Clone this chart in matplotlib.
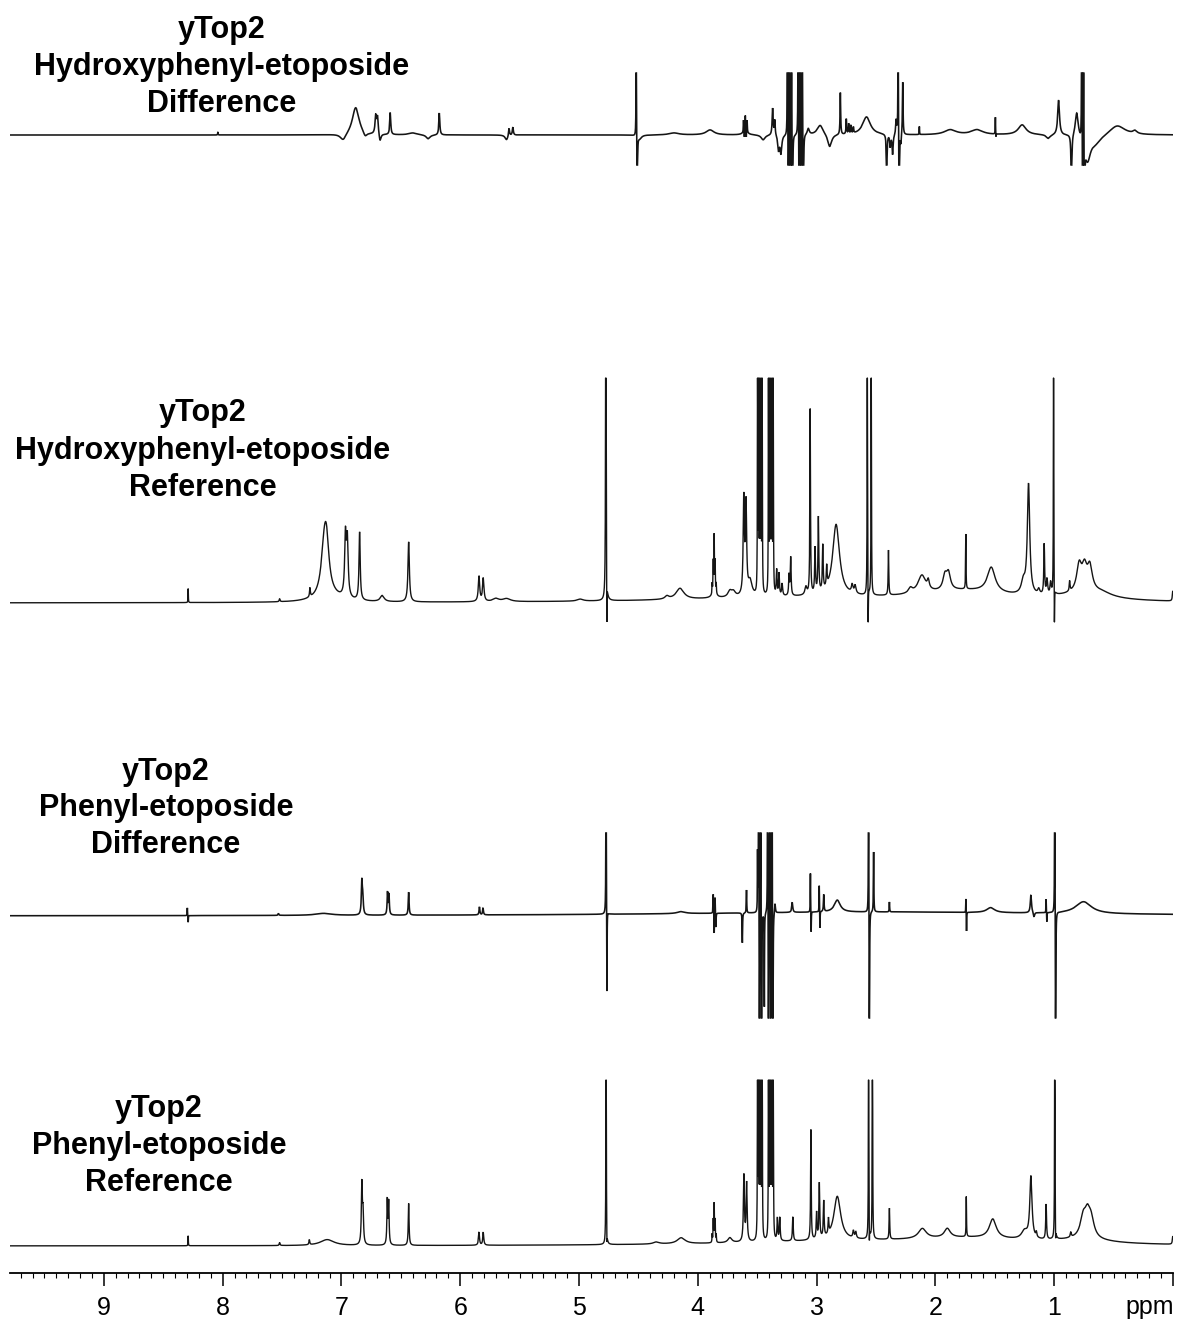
import numpy as np
import matplotlib
matplotlib.use("Agg")
import matplotlib.pyplot as plt
from matplotlib.ticker import MultipleLocator, FuncFormatter

# ---------------- data: peak lists (ppm, height in px, half-width in ppm) ----------------
titles = [
    ["yTop2", "Hydroxyphenyl-etoposide", "Difference"],
    ["yTop2", "Hydroxyphenyl-etoposide", "Reference"],
    ["yTop2", "Phenyl-etoposide", "Difference"],
    ["yTop2", "Phenyl-etoposide", "Reference"],
]

hp_difference = [
    (8.04, 3, 0.002), (6.985, -7, 0.03), (6.88, 28, 0.035), (6.80, -5, 0.02),
    (6.711, 18, 0.007), (6.696, 17, 0.007), (6.675, -8, 0.01), (6.589, 22, 0.005),
    (6.40, 2, 0.04), (6.27, -4, 0.02), (6.176, 22, 0.005), (5.61, -5, 0.015),
    (5.589, 8, 0.005), (5.557, 8, 0.005),
    (4.518, 200, 0.0015), (4.510, -200, 0.0015), (4.49, -4, 0.02),
    (4.2, 2, 0.05), (3.897, 5, 0.04),
    (3.615, 12, 0.002), (3.608, -8, 0.002), (3.600, 15, 0.002), (3.592, -8, 0.002),
    (3.585, 12, 0.002), (3.60, 5, 0.02), (3.45, -5, 0.02),
    (3.37, 27, 0.005), (3.352, 15, 0.004), (3.32, -15, 0.008), (3.30, -18, 0.008),
    (3.245, 300, 0.0015), (3.238, -300, 0.0015), (3.228, 300, 0.0015),
    (3.220, -300, 0.0015), (3.210, 300, 0.0015), (3.203, -300, 0.0015),
    (3.155, 300, 0.0015), (3.147, -300, 0.0015), (3.138, 300, 0.0015),
    (3.130, -300, 0.0015), (3.120, 300, 0.0015), (3.112, -300, 0.0015),
    (3.07, 6, 0.01), (2.97, 10, 0.03), (2.89, -13, 0.02), (2.80, 42, 0.003),
    (2.75, 15, 0.003), (2.73, 10, 0.003), (2.71, 8, 0.003), (2.69, 6, 0.003),
    (2.58, 18, 0.04),
    (2.41, -60, 0.003), (2.38, -12, 0.005), (2.36, -20, 0.005), (2.33, 15, 0.005),
    (2.313, 300, 0.0015), (2.305, -300, 0.0015), (2.29, -10, 0.003), (2.275, 53, 0.003),
    (2.135, 8, 0.0015), (1.875, 5, 0.06), (1.65, 5, 0.06),
    (1.495, 17, 0.0015), (1.49, -4, 0.0015), (1.27, 10, 0.04), (1.05, -4, 0.02),
    (0.963, 35, 0.009),
    (0.855, -60, 0.004), (0.81, 25, 0.015), (0.768, 300, 0.0015), (0.760, -300, 0.0015),
    (0.752, 300, 0.0015), (0.745, -300, 0.0015), (0.72, -25, 0.03), (0.65, -8, 0.06),
    (0.47, 10, 0.08), (0.32, 3, 0.02),
]

hp_reference = [
    (8.29, 14, 0.0015), (7.52, 3, 0.004), (7.265, 9, 0.004), (7.10, 6, 0.12),
    (7.145, 45, 0.03), (7.125, 40, 0.025), (6.966, 60, 0.008), (6.950, 55, 0.008),
    (6.847, 68, 0.006), (6.657, 6, 0.02), (6.434, 60, 0.007),
    (5.842, 25, 0.007), (5.806, 23, 0.007), (5.70, 3, 0.03), (5.61, 3, 0.04), (4.99, 2, 0.03),
    (4.774, 600, 0.002), (4.766, -60, 0.0015),
    (3.2, 5, 1.2), (1.75, 10, 0.45), (0.75, 6, 0.25),
    (4.26, 3, 0.02), (4.15, 11, 0.04),
    (3.879, 10, 0.002), (3.870, 30, 0.002), (3.862, 55, 0.002), (3.854, 30, 0.002),
    (3.845, 10, 0.002), (3.862, 6, 0.02), (3.73, 6, 0.02), (3.70, 5, 0.02),
    (3.613, 95, 0.006), (3.594, 88, 0.006), (3.56, 15, 0.02),
    (3.497, 300, 0.0015), (3.488, 300, 0.0015), (3.478, 300, 0.0015),
    (3.468, 300, 0.0015), (3.458, 300, 0.0015),
    (3.405, 300, 0.0015), (3.395, 300, 0.0015), (3.385, 300, 0.0015),
    (3.375, 300, 0.0015), (3.365, 300, 0.0015),
    (3.336, 25, 0.004), (3.316, 22, 0.004), (3.29, 12, 0.005),
    (3.232, 20, 0.004), (3.218, 38, 0.004), (3.09, 8, 0.01), (3.054, 185, 0.003),
    (3.013, 45, 0.004), (2.985, 75, 0.004), (2.948, 45, 0.004), (2.915, 20, 0.004),
    (2.836, 72, 0.035), (2.70, 8, 0.008), (2.675, 8, 0.008),
    (2.573, 400, 0.0015), (2.566, -60, 0.0015), (2.540, 400, 0.0015),
    (2.395, 45, 0.003), (2.21, 5, 0.02), (2.114, 18, 0.04), (2.06, 8, 0.01),
    (1.92, 14, 0.02), (1.89, 16, 0.02), (1.744, 55, 0.002), (1.53, 25, 0.04),
    (1.26, 12, 0.02), (1.216, 110, 0.012), (1.13, 5, 0.01), (1.084, 50, 0.004),
    (1.06, 15, 0.006), (1.03, 12, 0.006), (1.005, 400, 0.0015), (0.998, -60, 0.0015),
    (0.87, 10, 0.004), (0.79, 26, 0.025), (0.745, 22, 0.025), (0.70, 24, 0.025),
    (0.60, 4, 0.1), (0.002, 10, 0.004),
]

p_difference = [
    (8.297, 8, 0.0015), (8.290, -7, 0.0015), (7.53, 2, 0.004), (7.15, 2, 0.08),
    (6.828, 33, 0.005), (6.820, 15, 0.005), (6.612, 22, 0.004), (6.600, 20, 0.004),
    (6.434, 23, 0.004), (5.838, 8, 0.004), (5.808, 7, 0.004),
    (4.772, 300, 0.0015), (4.765, -90, 0.0015), (2.5, 4, 2.0), (4.14, 2, 0.04),
    (3.870, 20, 0.002), (3.862, -22, 0.002), (3.855, 18, 0.002), (3.848, -15, 0.002),
    (3.625, -30, 0.002), (3.59, 23, 0.002),
    (3.497, 58, 0.0015), (3.488, 300, 0.0015), (3.481, -300, 0.0015), (3.470, 300, 0.0015),
    (3.463, -300, 0.0015), (3.44, -94, 0.0015),
    (3.412, 300, 0.0015), (3.405, -300, 0.0015), (3.393, 300, 0.0015),
    (3.386, -300, 0.0015), (3.375, 300, 0.0015), (3.368, -300, 0.0015),
    (3.35, 10, 0.004), (3.205, 10, 0.005),
    (3.052, 40, 0.0015), (3.046, -22, 0.0015), (2.978, 27, 0.0015), (2.972, -18, 0.0015),
    (2.94, 17, 0.003), (2.826, 12, 0.03),
    (2.562, 300, 0.0015), (2.556, -300, 0.0015), (2.52, 60, 0.002), (2.387, 10, 0.002),
    (1.743, 15, 0.0015), (1.738, -20, 0.0015), (1.535, 5, 0.04),
    (1.196, 18, 0.006), (1.17, -5, 0.006), (1.068, 14, 0.0015), (1.062, -10, 0.0015),
    (0.995, 300, 0.0015), (0.988, -300, 0.0015), (0.753, 12, 0.08),
]

p_reference = [
    (8.29, 10, 0.0015), (7.52, 3, 0.004), (7.27, 5, 0.004), (7.12, 6, 0.07),
    (6.828, 60, 0.005), (6.818, 30, 0.005), (6.614, 44, 0.004), (6.602, 42, 0.004),
    (6.434, 42, 0.004), (5.842, 13, 0.005), (5.806, 13, 0.005),
    (4.772, 400, 0.0015), (4.765, -14, 0.0015),
    (2.8, 4, 1.2), (1.7, 6, 0.6), (0.75, 4, 0.25),
    (4.35, 2, 0.03), (4.14, 6, 0.04),
    (3.879, 8, 0.002), (3.870, 22, 0.002), (3.862, 38, 0.002), (3.854, 22, 0.002),
    (3.845, 8, 0.002), (3.73, 5, 0.02),
    (3.612, 66, 0.005), (3.589, 58, 0.005),
    (3.497, 300, 0.0015), (3.488, 300, 0.0015), (3.478, 300, 0.0015),
    (3.468, 300, 0.0015), (3.458, 300, 0.0015),
    (3.405, 300, 0.0015), (3.395, 300, 0.0015), (3.385, 300, 0.0015),
    (3.375, 300, 0.0015), (3.365, 300, 0.0015),
    (3.33, 22, 0.004), (3.31, 23, 0.004), (3.20, 24, 0.004), (3.048, 110, 0.003),
    (3.00, 26, 0.004), (2.977, 55, 0.004), (2.94, 36, 0.004), (2.90, 15, 0.004),
    (2.826, 44, 0.035), (2.69, 7, 0.006), (2.67, 6, 0.006),
    (2.562, 400, 0.0015), (2.556, -25, 0.0015), (2.530, 400, 0.0015),
    (2.387, 31, 0.003), (2.11, 10, 0.04), (1.90, 9, 0.03), (1.74, 40, 0.002),
    (1.517, 19, 0.035), (1.25, 8, 0.03), (1.196, 62, 0.011), (1.15, 5, 0.005),
    (1.068, 35, 0.004), (0.995, 400, 0.0015), (0.988, -16, 0.0015), (0.86, 5, 0.005),
    (0.755, 20, 0.03), (0.72, 18, 0.025), (0.69, 18, 0.03), (0.002, 8, 0.004),
]

spectra = [hp_difference, hp_reference, p_difference, p_reference]
ppm_ticks = [1, 2, 3, 4, 5, 6, 7, 8, 9]

# ---------------- layout ----------------
W, H = 1178, 1322
baselines = [135, 603, 916, 1246]
clips = [(73, 165), (378, 622), (833, 1018), (1080, 1300)]
line_widths = [1.15, 1.0, 1.15, 1.0]
title_x = [222, 203, 166, 159]
title_y = [(30, 67, 104), (413, 451, 488), (772, 808, 845), (1109, 1146, 1183)]

ppm = np.linspace(0.0, 9.79, 40000)


def lorentz_sum(peaks):
    arr = np.array(peaks, dtype=float)
    pos, h, w = arr[:, 0:1], arr[:, 1:2], arr[:, 2:3]
    return (h * w ** 2 / ((ppm[None, :] - pos) ** 2 + w ** 2)).sum(axis=0)


fig = plt.figure(figsize=(W / 100, H / 100), dpi=100)
ax = fig.add_axes([10 / W, (H - 1273) / H, 1163 / W, 1273 / H])
ax.set_xlim(9.79, 0.0)
ax.set_ylim(1273, 0)

for peaks, base, (top, bot), lw in zip(spectra, baselines, clips, line_widths):
    y = base - lorentz_sum(peaks)
    y = np.clip(y, top, bot)
    ax.plot(ppm, y, color="#151515", lw=lw, solid_joinstyle="miter")

for sp in ["left", "right", "top"]:
    ax.spines[sp].set_visible(False)
ax.spines["bottom"].set_linewidth(1.3)
ax.set_yticks([])
ax.xaxis.set_major_locator(MultipleLocator(1))
ax.xaxis.set_minor_locator(MultipleLocator(0.1))
ax.xaxis.set_major_formatter(FuncFormatter(
    lambda v, p: str(int(round(v))) if int(round(v)) in ppm_ticks else ""))
ax.tick_params(axis="x", which="major", length=9.5, width=1.1, pad=7,
               labelsize=18, direction="out")
ax.tick_params(axis="x", which="minor", length=3.5, width=0.8, direction="out")
for lab in ax.get_xticklabels():
    lab.set_fontfamily("Liberation Sans")

fig.text(1150 / W, 1 - 1307 / H, "ppm", ha="center", va="center",
         fontsize=18, family="Liberation Sans")

for lines, tx, tys in zip(titles, title_x, title_y):
    for s, ty in zip(lines, tys):
        fig.text(tx / W, 1 - ty / H, s, ha="center", va="center", fontsize=22,
                 fontweight="bold", family="Liberation Sans")

fig.savefig("out.png", dpi=100)
